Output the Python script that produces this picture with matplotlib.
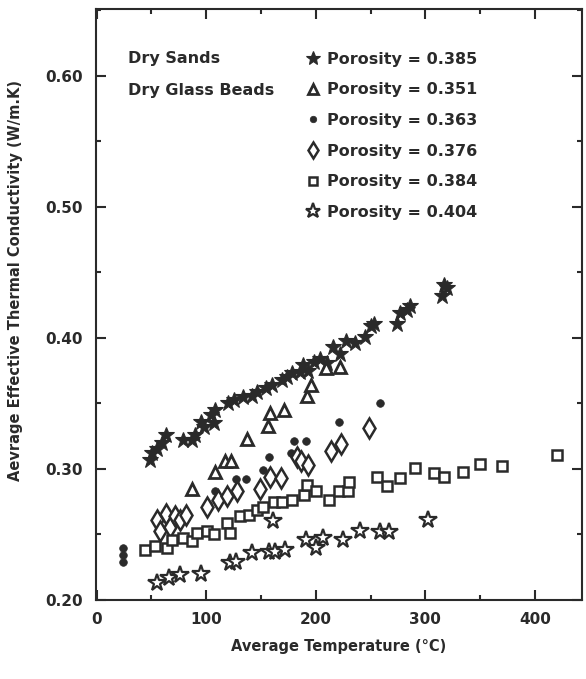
import numpy as np
import matplotlib
matplotlib.use('Agg')
import matplotlib.pyplot as plt
from matplotlib.ticker import MultipleLocator

INK = '#2a2a2a'

# ---- data (T in deg C, k in W/m.K) ----
sand_T = [49, 51, 55, 60, 63, 79, 87, 90, 95, 98, 104, 107, 108, 120, 125, 134, 142, 146,
          155, 160, 169, 174, 178, 186, 188, 193, 198, 204, 210, 216, 222, 228, 236, 245,
          250, 253, 274, 277, 283, 286, 315, 317, 320]
sand_k = [0.307, 0.312, 0.315, 0.320, 0.326, 0.322, 0.322, 0.326, 0.336, 0.332, 0.341, 0.335,
          0.345, 0.350, 0.353, 0.355, 0.356, 0.359, 0.362, 0.364, 0.368, 0.370, 0.373, 0.374,
          0.379, 0.375, 0.382, 0.384, 0.381, 0.393, 0.388, 0.398, 0.396, 0.401, 0.409, 0.411,
          0.411, 0.419, 0.421, 0.424, 0.432, 0.440, 0.438]

tri_T = [87, 108, 117, 123, 137, 156, 158, 171, 192, 196, 209, 222]
tri_k = [0.285, 0.298, 0.306, 0.306, 0.323, 0.333, 0.343, 0.345, 0.356, 0.364, 0.377, 0.378]

dot_T = [24, 24, 24, 102, 108, 127, 136, 152, 157, 177, 180, 191, 221, 259]
dot_k = [0.229, 0.234, 0.240, 0.273, 0.283, 0.292, 0.292, 0.299, 0.309, 0.312, 0.321, 0.321,
         0.336, 0.350]

dia_T = [55, 58, 63, 67, 72, 76, 82, 101, 111, 119, 128, 149, 158, 168, 183, 187, 193, 214,
         223, 249]
dia_k = [0.261, 0.253, 0.266, 0.256, 0.264, 0.261, 0.265, 0.271, 0.276, 0.279, 0.283, 0.285,
         0.294, 0.293, 0.309, 0.306, 0.303, 0.314, 0.319, 0.331]

sq_T = [44, 53, 64, 69, 79, 87, 92, 101, 107, 119, 122, 131, 139, 146, 152, 162, 169, 178,
        189, 192, 200, 212, 221, 229, 230, 256, 265, 277, 291, 308, 317, 334, 350, 370, 420]
sq_k = [0.238, 0.241, 0.240, 0.246, 0.247, 0.245, 0.251, 0.253, 0.250, 0.259, 0.251, 0.264,
        0.265, 0.269, 0.271, 0.275, 0.275, 0.276, 0.280, 0.288, 0.283, 0.276, 0.283, 0.283,
        0.290, 0.294, 0.287, 0.293, 0.301, 0.297, 0.294, 0.298, 0.304, 0.302, 0.311]

ostar_T = [55, 66, 76, 95, 122, 127, 142, 157, 161, 163, 172, 191, 200, 207, 225, 240, 259,
           267, 302]
ostar_k = [0.213, 0.217, 0.219, 0.220, 0.228, 0.229, 0.236, 0.237, 0.260, 0.237, 0.238, 0.246,
           0.240, 0.247, 0.246, 0.253, 0.252, 0.252, 0.261]

porosity = ['0.385', '0.351', '0.363', '0.376', '0.384', '0.404']
groups = ['Dry Sands', 'Dry Glass Beads']

# ---- figure ----
plt.rcParams['font.family'] = 'DejaVu Sans'
plt.rcParams['font.weight'] = 'bold'
fig = plt.figure(figsize=(5.86, 6.79), dpi=100)
ax = fig.add_axes([95.5/586, 79/679, 486.5/586, 591/679])

series = [
    (sand_T, sand_k, dict(marker='*', ms=12, mfc=INK, mec=INK, mew=0.8)),
    (tri_T, tri_k, dict(marker='^', ms=9, mfc='white', mec=INK, mew=2.0)),
    (dot_T, dot_k, dict(marker='o', ms=5.5, mfc=INK, mec=INK, mew=0.5)),
    (dia_T, dia_k, dict(marker='d', ms=10, mfc='white', mec=INK, mew=1.8)),
    (sq_T, sq_k, dict(marker='s', ms=7.5, mfc='white', mec=INK, mew=1.8)),
    (ostar_T, ostar_k, dict(marker='*', ms=13, mfc='white', mec=INK, mew=1.6)),
]
handles = []
for (T, k, st), p in zip(series, porosity):
    h, = ax.plot(T, k, ls='none', label='Porosity = ' + p, **st)
    handles.append(h)

ax.set_xlim(-1, 443)
ax.set_ylim(0.20, 0.651)
ax.xaxis.set_major_locator(MultipleLocator(100))
ax.xaxis.set_minor_locator(MultipleLocator(50))
ax.yaxis.set_major_locator(MultipleLocator(0.1))
ax.yaxis.set_minor_locator(MultipleLocator(0.05))
ax.yaxis.set_major_formatter(lambda v, pos: '%.2f' % v)
ax.tick_params(which='both', direction='in', top=True, right=True, width=1.5, color=INK)
ax.tick_params(which='major', length=7)
ax.tick_params(which='minor', length=3.5)
ax.tick_params(axis='x', which='major', pad=9, labelsize=11, labelcolor=INK)
ax.tick_params(axis='y', which='major', pad=9, labelsize=11, labelcolor=INK)
for s in ax.spines.values():
    s.set_linewidth(1.5)
    s.set_color(INK)

ax.set_xlabel('Average Temperature (°C)', fontsize=10.5, fontweight='bold', color=INK,
              labelpad=8)
ax.set_ylabel('Aevrage Effective Thermal Conductivity (W/m.K)', fontsize=10.5,
              fontweight='bold', color=INK)
ax.yaxis.set_label_coords(-0.15, 0.54)

ax.text(0.067, 0.917, groups[0], transform=ax.transAxes, fontsize=11.5, fontweight='bold',
        color=INK, va='center')
ax.text(0.067, 0.862, groups[1], transform=ax.transAxes, fontsize=11.5, fontweight='bold',
        color=INK, va='center')
leg = ax.legend(handles=handles, loc='upper left', bbox_to_anchor=(0.43, 0.928),
                frameon=False, fontsize=11.5, numpoints=1, handlelength=1.0,
                handletextpad=0.4, labelspacing=0.98, borderpad=0, borderaxespad=0,
                markerscale=0.85)
for t in leg.get_texts():
    t.set_color(INK)

fig.savefig('out.png', dpi=100)
